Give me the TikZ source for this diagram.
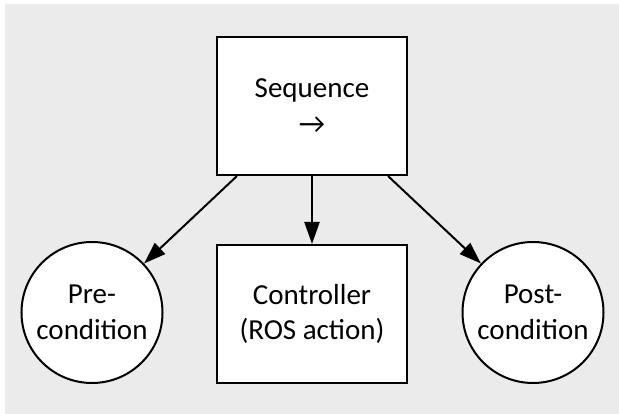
\documentclass[tikz,border=0pt]{standalone}
\usepackage{fontspec}
\setmainfont{Carlito}
\newfontfamily\symfont{DejaVu Sans}
\usetikzlibrary{arrows.meta}
\definecolor{bggray}{HTML}{EBEBEB}
\begin{document}
\begin{tikzpicture}[x=1pt,y=-1pt,
  every node/.style={font=\fontsize{29}{35.5}\selectfont, align=center, fill=white, draw=black, line width=2pt, inner sep=0pt},
  boxnode/.style={rectangle, minimum width=190pt, minimum height=138pt},
  circnode/.style={circle, minimum size=141pt},
  conn/.style={line width=2pt, -{Triangle[length=22pt,width=15pt]}}]
\useasboundingbox (0,0) rectangle (619,414);
\fill[bggray] (5,4) rectangle (619,414);
\node[boxnode] (seq) at (312,106) {Sequence\\→};
\node[boxnode] (ctrl) at (312,314) {Controller\\(ROS action)};
\node[circnode] (pre) at (92,312.5) {Pre-\\condition};
\node[circnode] (post) at (533,312.5) {Post-\\condition};
\coordinate (sl) at ([xshift=21pt]seq.south west);
\coordinate (sr) at ([xshift=-20pt]seq.south east);
\draw[conn] (sl) -- (pre);
\draw[conn] (seq.south) -- (ctrl.north);
\draw[conn] (sr) -- (post);
\end{tikzpicture}
\end{document}
